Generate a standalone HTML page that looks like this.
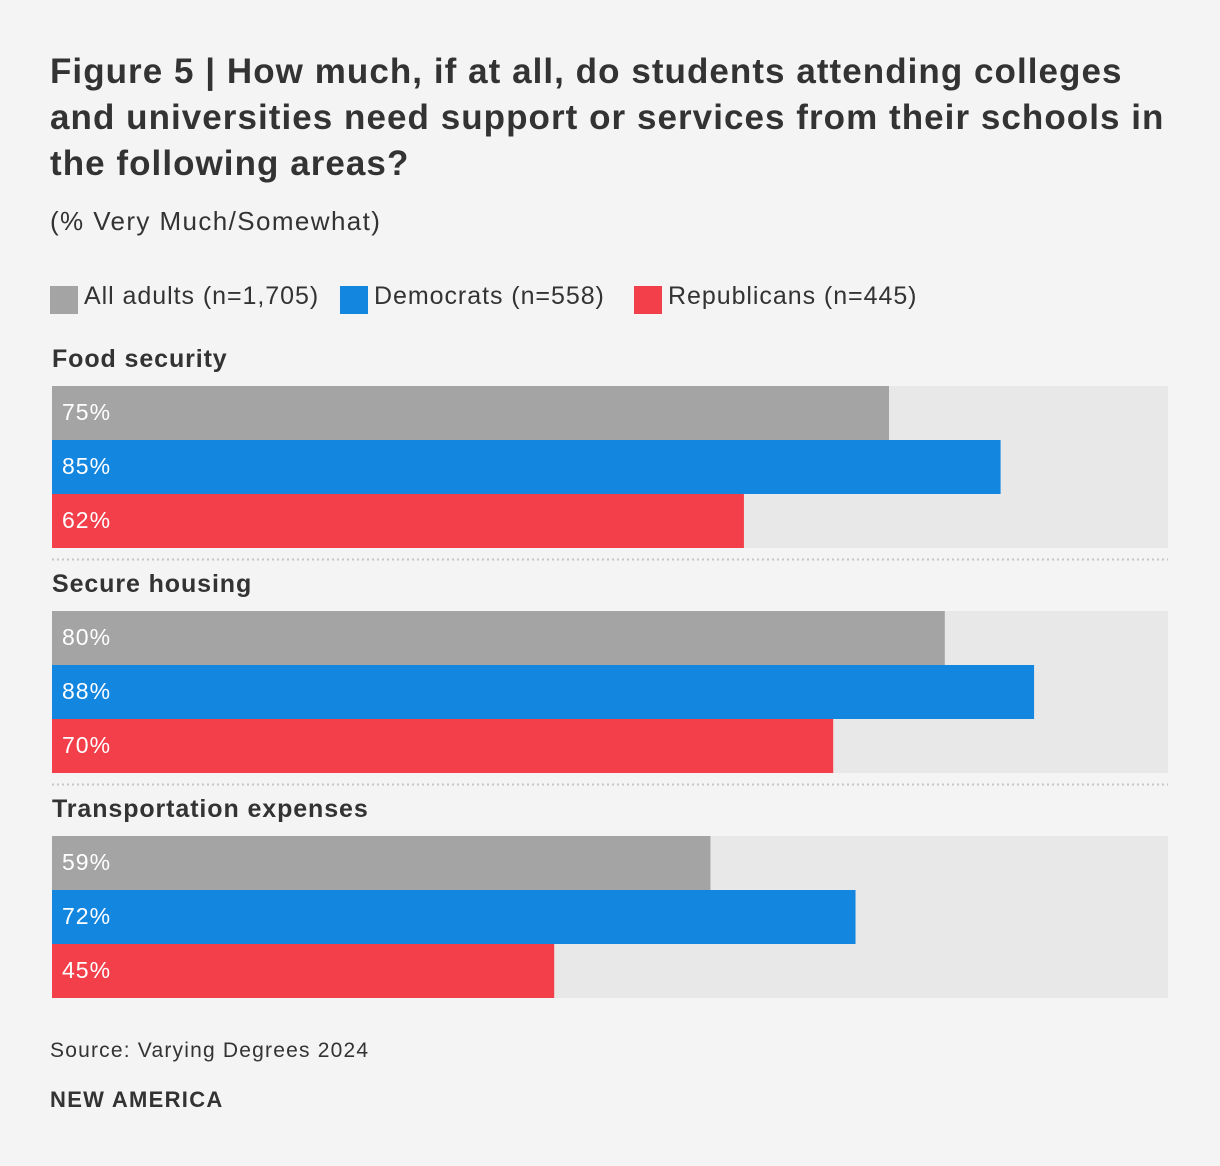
<!DOCTYPE html>
<html><head><meta charset="utf-8"><style>
body{margin:0;background:#f4f4f4;font-family:"Liberation Sans",sans-serif;color:#333;}
#wrap{position:relative;width:1220px;height:1166px;overflow:hidden;}
.t{position:absolute;white-space:nowrap;}
</style></head><body><div id="wrap">
<div class="t" style="left:50px;top:49px;font-size:35px;font-weight:bold;line-height:46px;color:#333;letter-spacing:1.05px">Figure 5 | How much, if at all, do students attending colleges<br>and universities need support or services from their schools in<br>the following areas?</div>
<div class="t" style="left:50px;top:206px;font-size:26px;color:#333;letter-spacing:1.4px">(% Very Much/Somewhat)</div>
<div id="legend"></div>
<svg id="plot" width="1220" height="1166" style="position:absolute;left:0;top:0"></svg>
<div class="t" style="left:50px;top:1039px;font-size:21px;color:#333;letter-spacing:1.2px">Source: Varying Degrees 2024</div>
<div class="t" style="left:50px;top:1087px;font-size:22px;font-weight:bold;color:#333;letter-spacing:1.3px">NEW AMERICA</div>
</div>
<script>
const categories=["Food security","Secure housing","Transportation expenses"];
const allAdults=[75,80,59];
const democrats=[85,88,72];
const republicans=[62,70,45];
const seriesNames=["All adults (n=1,705)","Democrats (n=558)","Republicans (n=445)"];
const colors=["#a4a4a4","#1386e0","#f33f4a"];
const series=[allAdults,democrats,republicans];
const x0=52,x1=1168,barH=54,groupTop=386,groupStep=225;
const xs=v=>x0+(x1-x0)*v/100;
const NS="http://www.w3.org/2000/svg";
const svg=document.getElementById('plot');
function mk(tag,attrs){const e=document.createElementNS(NS,tag);for(const k in attrs)e.setAttribute(k,attrs[k]);svg.appendChild(e);return e;}
const leg=document.getElementById('legend');
let lx=50;
const legWidths=[290,294,0];
seriesNames.forEach((n,i)=>{
  const sw=document.createElement('div');
  sw.className='t';sw.style.cssText=`left:${lx}px;top:286px;width:28px;height:28px;background:${colors[i]}`;
  
  
  leg.appendChild(sw);
  const tx=document.createElement('div');
  tx.className='t';tx.style.cssText=`left:${lx+34}px;top:282px;font-size:25px;color:#333;letter-spacing:0.95px`;
  tx.textContent=n;
  
  
  leg.appendChild(tx);
  lx+=legWidths[i];
});
categories.forEach((c,g)=>{
  const top=groupTop+g*groupStep;
  const lab=mk('text',{x:52,y:top-19,'font-size':25,'font-weight':'bold',fill:'#333','font-family':'Liberation Sans, sans-serif','letter-spacing':0.9});
  lab.textContent=c;
  
  
  const tr=mk('rect',{x:x0,y:top,width:x1-x0,height:barH*3,fill:'#e8e8e8'});
  
  
  series.forEach((s,i)=>{
    const y=top+i*barH;
    const r=mk('rect',{x:x0,y:y,width:xs(s[g])-x0,height:barH,fill:colors[i]});
    
    
    const t=mk('text',{x:62,y:y+34,'font-size':23,fill:'#fff','font-family':'Liberation Sans, sans-serif','letter-spacing':1});
    t.textContent=s[g]+'%';
    
    
  });
  if(g<categories.length-1){
    const l=mk('line',{x1:x0,x2:x1,y1:top+barH*3+11.5,y2:top+barH*3+11.5,stroke:'#c4c4c4','stroke-width':2,'stroke-dasharray':'2 3'});
    
    
  }
});
</script></body></html>
